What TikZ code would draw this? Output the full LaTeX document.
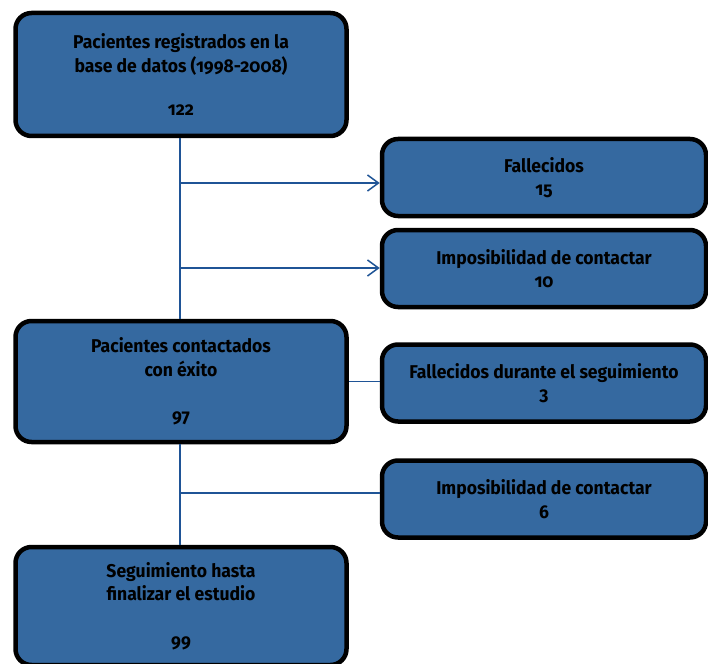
\documentclass[tikz,border=0pt]{standalone}
\usepackage{fontspec}
\setmainfont{Fira Sans}[FakeStretch=0.95]
\newfontfamily\oldnum{Fira Sans}[FakeStretch=0.95,Numbers=OldStyle]
\usetikzlibrary{arrows.meta}
\definecolor{boxfill}{RGB}{53,105,160}
\definecolor{linkblue}{RGB}{31,84,150}
\tikzset{
  bigbox/.style={draw=black, line width=4.5pt, fill=boxfill, rounded corners=16pt,
    minimum width=331pt, inner sep=0pt, align=center, font=\fontsize{18.5}{23.5}\selectfont\bfseries},
  smallbox/.style={draw=black, line width=4.5pt, fill=boxfill, rounded corners=16pt,
    minimum width=324pt, minimum height=77pt, inner sep=0pt, align=center,
    font=\fontsize{18.5}{23.5}\selectfont\bfseries},
  link/.style={draw=linkblue, line width=1.5pt},
  arr/.style={link, -{Straight Barb[length=11pt,width=16pt,line width=1.5pt]}}
}
\begin{document}
\begin{tikzpicture}[x=1pt,y=-1pt]
\useasboundingbox (0,0) rectangle (708,663);
\node[bigbox, minimum height=123pt] (reg) at (181,74.5)
  {{\oldnum Pacientes registrados en la}\\{\oldnum base de datos (1998-2008)}\\[20pt]{\oldnum 122}};
\node[smallbox] (fal) at (544,177.5) {{\oldnum Fallecidos}\\{\oldnum 15}};
\node[smallbox] (imp1) at (544,268.5) {{\oldnum Imposibilidad de contactar}\\{\oldnum 10}};
\node[bigbox, minimum height=121pt] (con) at (181,381.5)
  {Pacientes contactados\\con éxito\\[25pt]97};
\node[smallbox] (fds) at (544,383) {Fallecidos durante el seguimiento\\3};
\node[smallbox] (imp2) at (544,499) {Imposibilidad de contactar\\6};
\node[bigbox, minimum height=118pt] (seg) at (181,606)
  {Seguimiento hasta\\finalizar el estudio\\[25pt]99};
\coordinate (b1) at (180,183);
\coordinate (b2) at (180,268);
\coordinate (b3) at (180,493);
\draw[link] (reg.south -| b1) -- (con.north -| b1);
\draw[link] (con.south -| b1) -- (seg.north -| b1);
\draw[arr] (b1) -- (b1 -| fal.west);
\draw[arr] (b2) -- (b2 -| imp1.west);
\draw[link] (con.east) -- (con.east -| fds.west);
\draw[link] (b3) -- (b3 -| imp2.west);
\end{tikzpicture}
\end{document}
